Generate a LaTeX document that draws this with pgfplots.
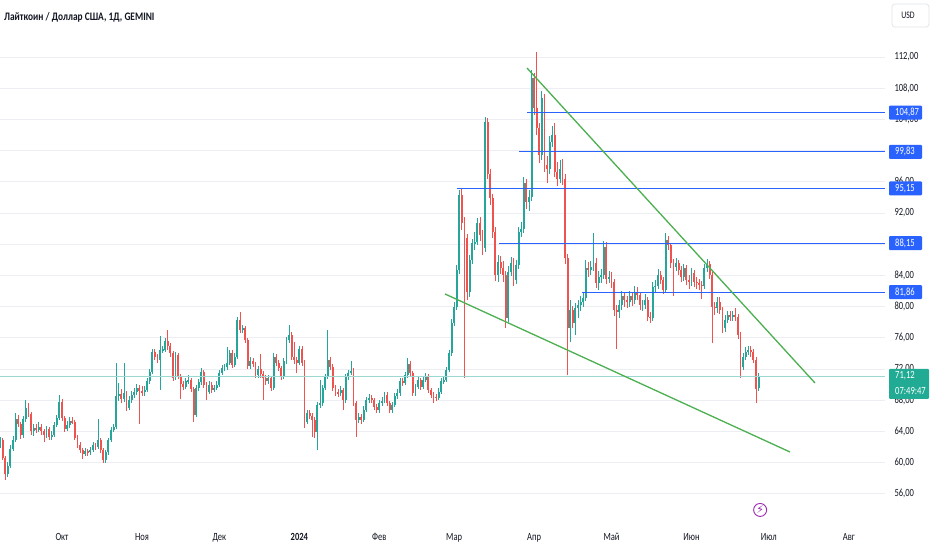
\documentclass[border=0pt]{standalone}
\usepackage{pgfplots}
\pgfplotsset{compat=1.18}
\usepackage{pgfplotstable}
\usepackage{fontspec}
\setmainfont{Carlito}[FakeStretch=0.78]
\newfontfamily\hdrfont{Carlito}[FakeStretch=0.82]
\newfontfamily\symfont{DejaVu Sans}
\definecolor{upc}{HTML}{26A69A}
\definecolor{downc}{HTML}{EF5350}
\definecolor{bluec}{HTML}{2962FF}
\definecolor{trendc}{HTML}{4CAF50}
\definecolor{greenbox}{HTML}{22AB94}
\definecolor{gridc}{HTML}{ECEEF3}
\definecolor{textc}{HTML}{131722}
\definecolor{purplec}{HTML}{9C27B0}
\definecolor{borderc}{HTML}{E0E3EB}

\pgfplotstableread{
d o h l c
-24 62.3 63.3 61.9 62.9
-23 62.9 63.2 60.3 60.6
-22 60.6 60.9 57.8 58.6
-21 58.6 60.1 58.2 59.6
-20 59.6 62.2 59.3 61.8
-19 61.8 63.4 61.5 62.9
-18 62.9 66.3 62.6 65.6
-17 65.6 66.1 64.5 64.9
-16 64.9 65.2 63.0 63.5
-15 63.5 66.0 63.2 65.6
-14 65.6 68.0 65.2 67.0
-13 67.0 67.6 65.8 66.2
-12 66.2 66.5 63.6 64.0
-11 64.0 65.0 63.4 64.4
-10 64.4 64.9 63.8 64.2
-9 64.2 65.2 63.9 64.6
-8 64.6 65.0 63.6 64.0
-7 64.0 64.3 62.6 63.5
-6 63.5 64.7 63.2 64.3
-5 64.3 64.6 62.9 63.3
-4 63.3 64.1 62.9 63.6
-3 63.6 65.2 63.3 64.8
-2 64.8 66.1 64.5 65.7
-1 65.7 68.7 65.4 67.8
0 67.8 68.1 65.3 65.7
1 65.7 66.0 63.9 64.3
2 64.3 65.3 64.0 64.8
3 64.8 65.8 64.5 65.3
4 65.3 65.8 64.9 65.2
5 65.2 65.5 62.9 63.2
6 63.2 63.6 61.9 62.3
7 62.3 62.6 61.2 61.6
8 61.6 61.9 60.4 61.1
9 61.1 61.9 60.8 61.5
10 61.5 61.8 60.9 61.3
11 61.3 62.0 61.0 61.6
12 61.6 62.6 61.3 62.2
13 62.2 62.5 61.6 62.0
14 62.0 65.6 61.7 62.9
15 62.9 63.2 61.2 61.6
16 61.6 61.9 59.9 60.3
17 60.3 61.6 60.0 61.3
18 61.3 63.2 61.0 62.9
19 62.9 64.5 62.6 64.2
20 64.2 65.0 63.9 64.6
21 64.6 72.8 64.3 68.5
22 68.5 70.2 67.9 68.8
23 68.8 69.4 67.6 68.2
24 68.2 72.8 67.8 68.9
25 68.9 69.2 66.6 67.0
26 67.0 68.5 66.7 68.0
27 68.0 69.2 67.7 68.7
28 68.7 69.5 68.3 69.0
29 69.0 70.1 68.7 69.6
30 69.6 70.0 65.0 69.2
31 69.2 69.8 68.5 69.0
32 69.0 69.8 68.6 69.3
33 69.3 70.8 69.0 70.4
34 70.4 72.0 70.1 71.6
35 71.6 74.6 71.3 74.2
36 74.2 74.6 73.1 73.5
37 73.5 73.9 72.8 73.2
38 73.2 76.2 69.3 74.4
39 74.4 75.0 74.0 74.5
40 74.5 76.0 74.2 75.6
41 75.6 77.0 74.5 74.9
42 74.9 75.3 73.6 74.0
43 74.0 74.3 70.5 70.9
44 70.9 74.2 70.6 73.8
45 73.8 74.1 70.7 71.0
46 71.0 71.3 68.2 70.1
47 70.1 70.5 69.3 69.7
48 69.7 70.8 69.4 70.4
49 70.4 71.2 70.1 70.6
50 70.6 70.9 69.0 69.4
51 69.4 69.7 65.2 66.1
52 66.1 70.0 65.8 69.6
53 69.6 70.7 69.2 70.3
54 70.3 72.1 70.0 71.6
55 71.6 71.9 69.6 70.0
56 70.0 70.3 68.0 69.1
57 69.1 70.4 68.8 70.0
58 70.0 70.3 68.9 69.3
59 69.3 70.0 69.0 69.6
60 69.6 70.4 69.3 70.0
61 70.0 71.9 69.7 71.5
62 71.5 72.5 71.2 72.1
63 72.1 72.7 71.8 72.2
64 72.2 74.8 71.9 72.8
65 72.8 74.5 72.5 74.1
66 74.1 74.4 72.1 72.5
67 72.5 74.0 72.2 73.6
68 73.6 78.7 73.3 78.3
69 78.3 79.3 76.6 77.0
70 77.0 77.7 76.6 77.2
71 77.2 77.5 75.3 75.7
72 75.7 76.0 72.0 72.4
73 72.4 73.5 72.0 73.0
74 73.0 73.4 72.2 72.6
75 72.6 72.9 70.8 71.2
76 71.2 72.4 70.9 72.0
77 72.0 73.9 70.9 71.3
78 71.3 71.7 68.0 70.8
79 70.8 71.2 70.0 70.4
80 70.4 71.2 70.1 70.8
81 70.8 71.1 69.2 69.6
82 69.6 74.0 69.3 73.6
83 73.6 73.9 72.4 72.8
84 72.8 73.1 71.7 72.1
85 72.1 72.4 70.6 71.0
86 71.0 73.4 70.7 73.0
87 73.0 76.1 72.7 75.7
88 75.7 77.6 75.3 76.4
89 76.4 76.7 73.1 73.5
90 73.5 75.5 72.7 73.1
91 73.1 73.5 71.5 72.8
92 72.8 74.9 72.5 74.5
93 74.5 74.9 72.4 72.8
94 72.8 73.1 64.4 65.2
95 65.2 66.8 64.9 66.4
96 66.4 66.8 65.6 66.0
97 66.0 66.3 63.3 65.5
98 65.5 65.8 63.2 63.9
99 63.9 67.8 61.6 67.4
100 67.4 70.6 67.0 67.6
101 67.6 70.0 67.3 69.6
102 69.6 71.4 69.3 71.0
103 71.0 77.0 70.7 73.2
104 73.2 73.6 71.9 72.3
105 72.3 72.6 69.2 69.6
106 69.6 69.9 68.6 69.0
107 69.0 69.4 68.4 68.9
108 68.9 69.8 68.6 69.3
109 69.3 69.6 66.8 68.0
110 68.0 71.4 67.7 71.0
111 71.0 71.9 70.6 71.5
112 71.5 73.0 71.2 71.8
113 71.8 72.1 67.2 67.6
114 67.6 67.9 63.3 65.5
115 65.5 66.3 65.1 65.8
116 65.8 66.2 65.0 65.5
117 65.5 67.2 65.2 66.8
118 66.8 68.4 66.5 68.0
119 68.0 68.8 67.7 68.3
120 68.3 68.7 67.6 68.0
121 68.0 68.3 66.7 67.1
122 67.1 67.5 66.3 66.7
123 66.7 68.0 66.4 67.6
124 67.6 68.4 67.2 67.9
125 67.9 69.1 67.6 68.7
126 68.7 69.0 67.2 67.6
127 67.6 67.9 66.3 66.7
128 66.7 67.8 66.4 67.4
129 67.4 68.9 67.1 68.5
130 68.5 69.4 68.2 68.9
131 68.9 70.8 68.6 70.4
132 70.4 70.8 69.8 70.2
133 70.2 71.6 69.9 71.2
134 71.2 73.4 70.9 72.7
135 72.7 73.0 71.1 71.5
136 71.5 71.8 68.5 68.9
137 68.9 70.1 68.6 69.7
138 69.7 71.0 69.4 70.6
139 70.6 70.9 69.3 69.7
140 69.7 71.0 69.4 70.6
141 70.6 71.5 70.3 71.0
142 71.0 71.4 68.9 69.3
143 69.3 69.6 68.3 68.7
144 68.7 69.0 67.6 68.4
145 68.4 68.8 67.9 68.3
146 68.3 69.5 68.0 69.1
147 69.1 70.8 68.8 70.4
148 70.4 71.1 70.1 70.6
149 70.6 72.3 70.3 71.9
150 71.9 74.4 71.6 74.0
151 74.0 78.4 73.7 77.9
152 77.9 80.6 77.5 80.0
153 80.0 85.3 79.6 84.7
154 84.7 95.0 84.2 94.3
155 94.3 95.2 89.8 90.7
156 90.7 91.5 70.8 88.8
157 88.8 89.3 80.8 81.9
158 81.9 86.6 81.2 86.0
159 86.0 88.7 85.4 88.1
160 88.1 89.6 87.3 88.3
161 88.3 91.3 87.9 90.7
162 90.7 91.5 88.4 89.2
163 89.2 89.8 86.6 87.5
164 87.5 104.3 87.0 103.7
165 103.7 104.2 96.3 97.0
166 97.0 97.6 93.0 93.9
167 93.9 94.5 88.8 89.6
168 89.6 90.2 83.3 84.0
169 84.0 86.6 83.2 85.7
170 85.7 86.5 84.2 85.0
171 85.0 85.8 83.1 84.0
172 84.0 84.6 77.2 78.5
173 78.5 85.2 78.0 84.5
174 84.5 86.4 83.9 85.6
175 85.6 86.2 82.6 83.4
176 83.4 86.0 82.9 85.3
177 85.3 90.2 84.8 89.6
178 89.6 90.8 88.9 90.0
179 90.0 96.6 89.4 95.8
180 95.8 96.4 92.5 93.4
181 93.4 95.0 92.3 94.1
182 94.1 110.3 93.5 109.3
183 109.3 110.0 104.6 105.4
184 105.4 112.6 102.0 102.9
185 102.9 103.5 98.4 99.4
186 99.4 107.6 98.8 106.7
187 106.7 107.2 97.2 98.2
188 98.2 99.3 95.9 97.7
189 97.7 101.9 97.0 101.1
190 101.1 103.2 100.4 102.0
191 102.0 103.5 96.6 97.3
192 97.3 98.6 95.4 96.4
193 96.4 98.8 95.8 97.7
194 97.7 98.9 95.6 96.4
195 96.4 97.0 85.5 86.2
196 86.2 86.8 71.2 77.2
197 77.2 80.8 75.5 79.6
198 79.6 80.1 77.2 77.9
199 77.9 80.4 76.4 79.8
200 79.8 80.8 78.6 80.2
201 80.2 81.4 79.5 80.6
202 80.6 81.8 80.0 81.1
203 81.1 86.0 80.7 84.9
204 84.9 85.7 83.8 84.7
205 84.7 85.8 84.0 85.1
206 85.1 89.4 84.6 85.6
207 85.6 86.2 82.4 83.0
208 83.0 84.6 82.1 83.8
209 83.8 84.8 83.0 84.0
210 84.0 88.4 83.5 87.7
211 87.7 88.3 82.9 83.6
212 83.6 84.6 83.0 83.8
213 83.8 84.4 82.4 83.2
214 83.2 83.6 78.8 79.6
215 79.6 80.2 74.6 79.3
216 79.3 80.9 78.6 80.2
217 80.2 82.0 79.6 81.3
218 81.3 81.9 80.0 80.8
219 80.8 81.4 79.8 80.6
220 80.6 82.0 80.0 81.4
221 81.4 81.9 80.1 80.8
222 80.8 82.6 80.3 81.9
223 81.9 82.5 80.8 81.5
224 81.5 81.9 79.6 80.2
225 80.2 80.9 79.5 80.2
226 80.2 81.6 79.7 80.9
227 80.9 81.2 78.1 78.7
228 78.7 79.3 77.9 78.6
229 78.6 83.1 78.2 82.5
230 82.5 83.4 81.9 82.7
231 82.7 84.8 82.2 84.1
232 84.1 84.6 82.9 83.4
233 83.4 83.8 81.6 82.1
234 82.1 89.4 81.8 88.5
235 88.5 89.0 87.2 87.9
236 87.9 88.2 85.0 85.6
237 85.6 86.1 81.3 85.1
238 85.1 86.2 84.6 85.6
239 85.6 86.0 84.1 84.7
240 84.7 85.2 83.1 83.8
241 83.8 85.5 83.3 84.9
242 84.9 85.3 82.8 83.4
243 83.4 84.0 82.2 83.2
244 83.2 85.0 82.7 84.3
245 84.3 84.7 82.5 83.2
246 83.2 83.8 82.2 83.0
247 83.0 83.6 82.1 82.8
248 82.8 83.3 81.0 82.7
249 82.7 85.4 82.3 84.9
250 84.9 86.1 84.4 85.5
251 85.5 85.9 83.6 84.1
252 84.1 84.5 75.3 80.0
253 80.0 80.6 78.9 79.8
254 79.8 81.2 79.2 80.6
255 80.6 81.2 79.1 79.6
256 79.6 80.0 76.6 77.2
257 77.2 78.9 76.8 78.3
258 78.3 79.5 77.9 78.9
259 78.9 79.4 78.1 78.7
260 78.7 79.5 78.2 78.9
261 78.9 79.8 78.2 78.7
262 78.7 79.0 75.9 76.4
263 76.4 76.8 70.8 72.3
264 72.3 74.1 71.9 73.6
265 73.6 74.8 73.1 74.2
266 74.2 75.0 73.8 74.4
267 74.4 74.9 73.6 74.2
268 74.2 74.6 72.8 73.2
269 73.2 73.6 67.6 69.5
270 69.5 71.5 69.2 71.12
}\candles

\begin{document}
\begin{tikzpicture}
\path[use as bounding box, fill=white] (0,0) rectangle (932bp,550bp);
\begin{axis}[
  at={(0,30bp)}, anchor=south west,
  scale only axis, width=885bp, height=520bp,
  xmin=-24.03, xmax=319, ymin=52.64, ymax=119.31,
  axis line style={draw=none},
  major tick length=0pt,
  ytick={56,60,...,112},
  yticklabel pos=right,
  yticklabels={56{,}00,60{,}00,64{,}00,68{,}00,72{,}00,76{,}00,80{,}00,84{,}00,,92{,}00,96{,}00,,104{,}00,108{,}00,112{,}00},
  yticklabel style={anchor=west, xshift=6bp},
  ymajorgrids,
  grid style={draw=gridc, line width=0.7bp},
  xtick={0,31,61,92,123,152,183,213,244,274,305},
  xticklabels={Окт,Ноя,Дек,\textbf{2024},Фев,Мар,Апр,Май,Июн,Июл,Авг},
  xticklabel style={yshift=-10bp},
  tick label style={font=\fontsize{11}{13}\selectfont, text=textc},
  every axis plot/.append style={mark=none},
]
% wicks
\addplot[draw=none, mark=none, error bars/.cd, y dir=both, y explicit, error mark=none,
  error bar style={draw=upc, line width=0.8bp}]
  table[x=d, y expr={\thisrow{c}>=\thisrow{o} ? (\thisrow{h}+\thisrow{l})/2 : nan},
        y error expr={(\thisrow{h}-\thisrow{l})/2}] {\candles};
\addplot[draw=none, mark=none, error bars/.cd, y dir=both, y explicit, error mark=none,
  error bar style={draw=downc, line width=0.8bp}]
  table[x=d, y expr={\thisrow{c}<\thisrow{o} ? (\thisrow{h}+\thisrow{l})/2 : nan},
        y error expr={(\thisrow{h}-\thisrow{l})/2}] {\candles};
% bodies
\addplot[draw=none, mark=none, error bars/.cd, y dir=both, y explicit, error mark=none,
  error bar style={draw=upc, line width=1.9bp}]
  table[x=d, y expr={\thisrow{c}>=\thisrow{o} ? (\thisrow{o}+\thisrow{c})/2 : nan},
        y error expr={max(abs(\thisrow{c}-\thisrow{o})/2,0.07)}] {\candles};
\addplot[draw=none, mark=none, error bars/.cd, y dir=both, y explicit, error mark=none,
  error bar style={draw=downc, line width=1.9bp}]
  table[x=d, y expr={\thisrow{c}<\thisrow{o} ? (\thisrow{o}+\thisrow{c})/2 : nan},
        y error expr={max(abs(\thisrow{c}-\thisrow{o})/2,0.07)}] {\candles};
% current price line
\addplot[draw=upc!45, line width=0.6bp] coordinates {(-24.03,71.12) (319,71.12)};
% horizontal levels
\addplot[draw=bluec, line width=0.9bp] coordinates {(180.2,104.87) (319,104.87)};
\addplot[draw=bluec, line width=0.9bp] coordinates {(177.1,99.83) (319,99.83)};
\addplot[draw=bluec, line width=0.9bp] coordinates {(153.1,95.15) (319,95.15)};
\addplot[draw=bluec, line width=0.9bp] coordinates {(169.4,88.15) (319,88.15)};
\addplot[draw=bluec, line width=0.9bp] coordinates {(201.6,81.86) (319,81.86)};
% trend lines
\addplot[draw=trendc, line width=1.3bp] coordinates {(180.23,110.59) (291.86,70.21)};
\addplot[draw=trendc, line width=1.3bp] coordinates {(148.45,81.62) (282.17,61.36)};
\coordinate (L1) at (axis cs:319,104.87);
\coordinate (L2) at (axis cs:319,99.83);
\coordinate (L3) at (axis cs:319,95.15);
\coordinate (L4) at (axis cs:319,88.15);
\coordinate (L5) at (axis cs:319,81.86);
\coordinate (LP) at (axis cs:319,71.12);
\coordinate (EV) at (axis cs:270.6,53.93);
\end{axis}
\foreach \c/\t in {L1/{104,87},L2/{99,83},L3/{95,15},L4/{88,15},L5/{81,86}}{
  \fill[bluec, rounded corners=1bp] ([xshift=4bp,yshift=7bp]\c) rectangle ++(33bp,-14bp);
  \node[anchor=west, text=white, inner sep=0pt, font=\fontsize{11}{13}\selectfont] at ([xshift=10bp]\c) {\t};
}
\fill[greenbox, rounded corners=1bp] ([xshift=4bp,yshift=7bp]LP) rectangle ++(40bp,-30bp);
\node[anchor=west, text=white, inner sep=0pt, font=\fontsize{11}{13}\selectfont] at ([xshift=10bp]LP) {71,12};
\node[anchor=west, text=white, inner sep=0pt, font=\fontsize{11}{13}\selectfont] at ([xshift=10bp,yshift=-15bp]LP) {07:49:47};
\node[anchor=west, text=textc, inner sep=0pt, font=\hdrfont\fontsize{11.5}{13}\selectfont\bfseries] at (4bp,533bp) {Лайткоин / Доллар США, 1Д, GEMINI};
\draw[draw=borderc, line width=0.7bp, rounded corners=3bp] (892bp,523bp) rectangle (929bp,546bp);
\node[text=textc, inner sep=0pt, font=\fontsize{10}{12}\selectfont] at (908bp,535bp) {USD};
\node[circle, draw=purplec, line width=0.9bp, minimum size=13bp, inner sep=0pt] at (EV) {};
\node[text=purplec, inner sep=0pt, font=\symfont\fontsize{11}{12}\selectfont] at (EV) {⚡};
\end{tikzpicture}
\end{document}
